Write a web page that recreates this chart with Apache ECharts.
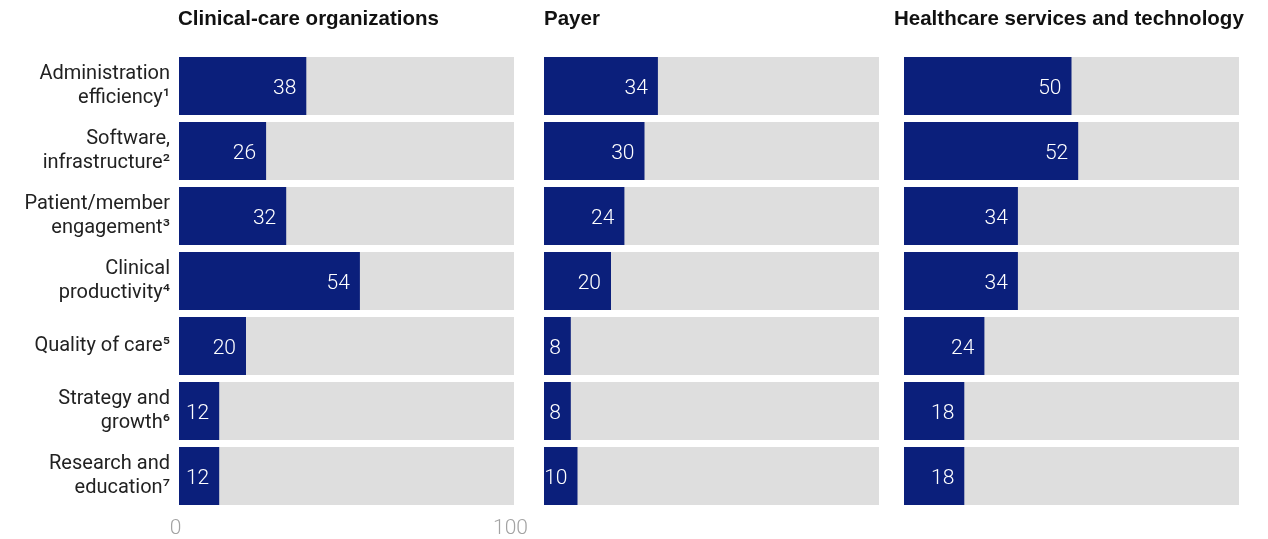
<!DOCTYPE html>
<html>
<head>
<meta charset="utf-8">
<script src="https://cdn.jsdelivr.net/npm/echarts@6/dist/echarts.min.js"></script>
<style>
  html, body { margin: 0; padding: 0; background: #ffffff; }
  #chart { width: 1268px; height: 539px; }
</style>
</head>
<body>
<div id="chart"></div>
<script>
// ---- data ----
const categories = [
  'Administration\nefficiency¹',
  'Software,\ninfrastructure²',
  'Patient/member\nengagement³',
  'Clinical\nproductivity⁴',
  'Quality of care⁵',
  'Strategy and\ngrowth⁶',
  'Research and\neducation⁷'
];
const panelTitles = ['Clinical-care organizations', 'Payer', 'Healthcare services and technology'];
const clinicalCare = [38, 26, 32, 54, 20, 12, 12];
const payer = [34, 30, 24, 20, 8, 8, 10];
const healthTech = [50, 52, 34, 34, 24, 18, 18];
const axisTicks = [0, 100];

// ---- layout / style ----
const panelLefts = [179, 544, 904];
const panelWidth = 335;
const titleLefts = [178, 544, 894];
const gridTop = 53.5;
const gridHeight = 455;
const BAR = '#0b1f7b';
const BG = '#dedede';
const seriesData = [clinicalCare, payer, healthTech];

const chart = echarts.init(document.getElementById('chart'), null, { renderer: 'canvas' });

const grids = [], xAxes = [], yAxes = [], series = [], titles = [];
for (let i = 0; i < 3; i++) {
  grids.push({
    left: panelLefts[i], top: gridTop, width: panelWidth, height: gridHeight,
    containLabel: false, outerBoundsMode: 'none'
  });
  titles.push({
    text: panelTitles[i], left: titleLefts[i], top: 9, padding: 0,
    textStyle: { fontFamily: 'Liberation Sans', fontWeight: 'bold', fontSize: 20.5, color: '#111111' }
  });
  xAxes.push({
    type: 'value', gridIndex: i, min: axisTicks[0], max: axisTicks[1], interval: axisTicks[1] - axisTicks[0],
    axisLine: { show: false }, axisTick: { show: false }, splitLine: { show: false },
    axisLabel: {
      show: i === 0, color: '#a3a3a3', fontFamily: 'Roboto', fontWeight: 300, fontSize: 21,
      lineHeight: 21, margin: 10, padding: [0, 7, 0, 0]
    }
  });
  yAxes.push({
    type: 'category', gridIndex: i, data: categories, inverse: true,
    axisLine: { show: false }, axisTick: { show: false }, splitLine: { show: false },
    axisLabel: {
      show: i === 0, color: '#222222', fontFamily: 'Roboto', fontSize: 20, lineHeight: 24,
      margin: 9, align: 'right'
    }
  });
  series.push({
    type: 'bar', xAxisIndex: i, yAxisIndex: i, data: seriesData[i],
    barWidth: 58,
    itemStyle: { color: BAR },
    showBackground: true,
    backgroundStyle: { color: BG },
    label: {
      show: true, position: 'insideRight', distance: 10, offset: [0, 3],
      color: '#ffffff', fontFamily: 'Roboto', fontWeight: 300, fontSize: 21
    },
    emphasis: { disabled: true },
    animation: false
  });
}

chart.setOption({
  animation: false,
  title: titles,
  grid: grids,
  xAxis: xAxes,
  yAxis: yAxes,
  series: series
});
</script>
</body>
</html>
